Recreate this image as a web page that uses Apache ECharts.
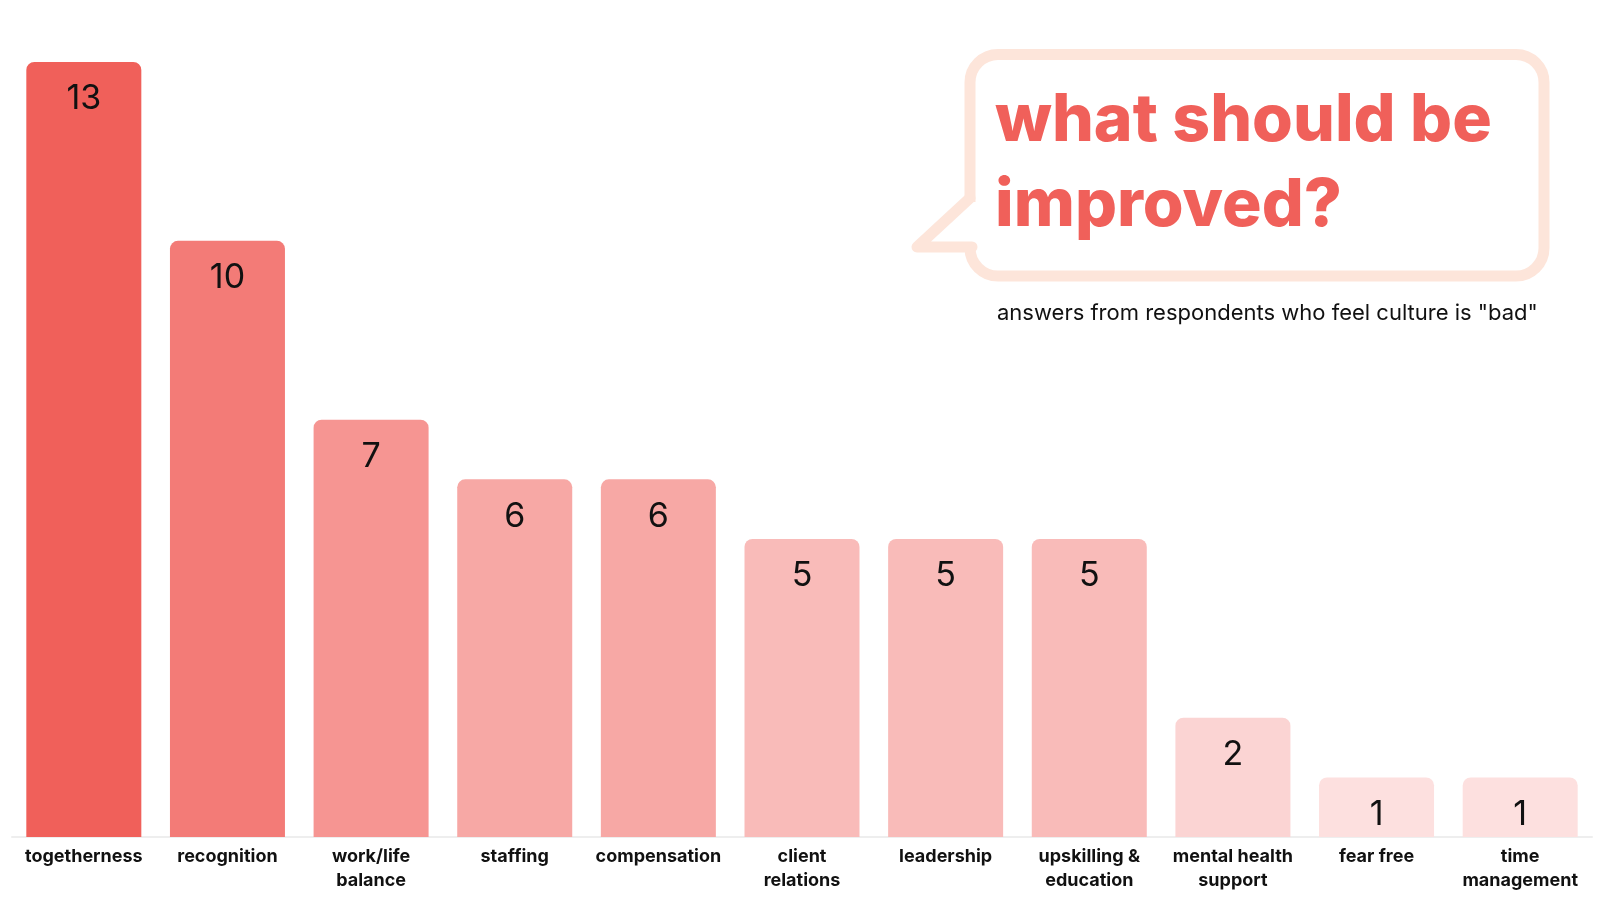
<!DOCTYPE html>
<html>
<head>
<meta charset="utf-8">
<script src="https://cdn.jsdelivr.net/npm/echarts@6/dist/echarts.min.js"></script>
<style>html,body{margin:0;padding:0;background:#fff;}#c{width:1600px;height:900px;}</style>
</head>
<body>
<div id="c"></div>
<script>
const categories = ['togetherness','recognition','work/life\nbalance','staffing','compensation','client\nrelations','leadership','upskilling &\neducation','mental health\nsupport','fear free','time\nmanagement'];
const values = [13,10,7,6,6,5,5,5,2,1,1];
const palette = ['#f0605a','#f37b77','#f69592','#f7a8a5','#f7a8a5','#f9bbb9','#f9bbb9','#f9bbb9','#fbd4d3','#fde0df','#fde0df'];
const titleLines = ['what should be','improved?'];
const subtitle = 'answers from respondents who feel culture is "bad"';

const bubbleStroke = '#fde5da';
const chart = echarts.init(document.getElementById('c'));
chart.setOption({
  animation: false,
  backgroundColor: '#ffffff',
  grid: {left: 12, right: 8, top: 62, bottom: 63, containLabel: false},
  xAxis: {
    type: 'category',
    data: categories,
    axisLine: {lineStyle: {color: '#eeeeee', width: 2}},
    axisTick: {show: false},
    axisLabel: {
      interval: 0, margin: 8, color: '#111', fontSize: 18, fontWeight: 700,
      fontFamily: 'Inter', lineHeight: 23.5, align: 'center'
    }
  },
  yAxis: {type: 'value', min: 0, max: 13, show: false, splitLine: {show: false}},
  series: [{
    type: 'bar',
    barWidth: 115,
    data: values.map((v, i) => ({value: v, itemStyle: {color: palette[i]}})),
    itemStyle: {borderRadius: [8, 8, 0, 0]},
    label: {
      show: true, position: 'insideTop', distance: 20,
      fontSize: 34, color: '#111', fontFamily: 'Inter'
    }
  }],
  graphic: [
    {
      type: 'rect', z: 10,
      shape: {x: 970, y: 54.5, width: 574, height: 221.5, r: 28},
      style: {fill: '#ffffff', stroke: bubbleStroke, lineWidth: 11}
    },
    {
      type: 'rect', z: 11,
      shape: {x: 960, y: 202, width: 20, height: 44},
      style: {fill: '#ffffff'}
    },
    {
      type: 'polyline', z: 12,
      shape: {points: [[970, 198], [917, 247], [972, 247]]},
      style: {fill: null, stroke: bubbleStroke, lineWidth: 11, lineJoin: 'round', lineCap: 'round'}
    },
    {
      type: 'text', x: 995, y: 121, z: 13,
      style: {text: titleLines[0], fill: '#f0605a', font: '800 66px Inter', textVerticalAlign: 'middle'}
    },
    {
      type: 'text', x: 995, y: 206, z: 13,
      style: {text: titleLines[1], fill: '#f0605a', font: '800 66px Inter', textVerticalAlign: 'middle'}
    },
    {
      type: 'text', x: 997, y: 313, z: 13,
      style: {text: subtitle, fill: '#111', font: '22px Inter', textVerticalAlign: 'middle'}
    }
  ]
});
</script>
</body>
</html>
